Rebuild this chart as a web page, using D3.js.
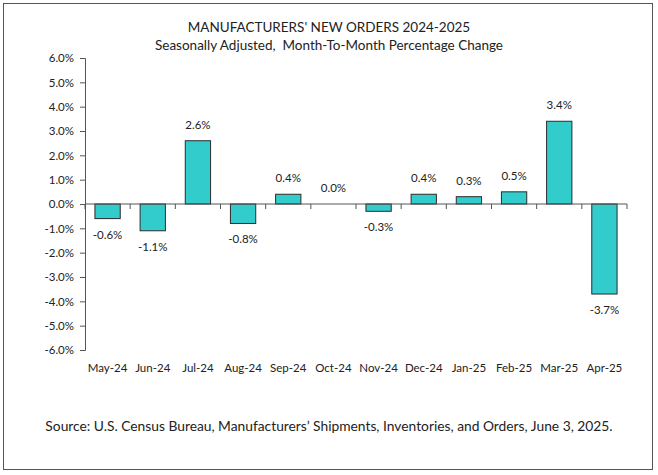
<!DOCTYPE html>
<html>
<head>
<meta charset="utf-8">
<script src="https://cdn.jsdelivr.net/npm/d3@7"></script>
<style>
body { margin: 0; background: #fff; }
text { font-family: Lato, "Open Sans", sans-serif; fill: #222; white-space: pre; }
</style>
</head>
<body>
<script>
var months = ['May-24', 'Jun-24', 'Jul-24', 'Aug-24', 'Sep-24', 'Oct-24', 'Nov-24', 'Dec-24', 'Jan-25', 'Feb-25', 'Mar-25', 'Apr-25'];
var changes = [-0.6, -1.1, 2.6, -0.8, 0.4, 0.0, -0.3, 0.4, 0.3, 0.5, 3.4, -3.7];
var yTicks = [-6, -5, -4, -3, -2, -1, 0, 1, 2, 3, 4, 5, 6];
var title = "MANUFACTURERS' NEW ORDERS 2024-2025";
var subtitle = 'Seasonally Adjusted,  Month-To-Month Percentage Change';
var source = 'Source: U.S. Census Bureau, Manufacturers\u2019 Shipments, Inventories, and Orders, June 3, 2025.';

var W = 658, H = 475;
var svg = d3.select('body').append('svg').attr('width', W).attr('height', H);

svg.append('rect')
    .attr('x', 3.5).attr('y', 3.5)
    .attr('width', 649).attr('height', 466)
    .attr('fill', '#fff').attr('stroke', '#555').attr('stroke-width', 1);

svg.append('text').attr('x', 329).attr('y', 32).attr('text-anchor', 'middle')
    .style('font-size', '13.5px').text(title);
svg.append('text').attr('x', 329).attr('y', 50).attr('text-anchor', 'middle')
    .style('font-size', '13.5px').text(subtitle);

var plotL = 85, plotR = 627, plotT = 58, plotB = 350;
var x = d3.scaleBand().domain(months).range([plotL, plotR]).paddingInner(0.44).paddingOuter(0.22);
var y = d3.scaleLinear().domain([-6, 6]).range([plotB, plotT]);

// y axis
var yAxis = svg.append('g').attr('transform', 'translate(' + plotL + ',0)')
    .call(d3.axisLeft(y).tickValues(yTicks).tickSize(5).tickPadding(6)
        .tickFormat(function(d) { return d.toFixed(1) + '%'; }));
yAxis.selectAll('text').style('font-size', '11.5px').attr('fill', '#222');
yAxis.selectAll('line, path').attr('stroke', '#555');

// bars
svg.selectAll('.bar').data(changes).enter().append('rect')
    .attr('class', 'bar')
    .attr('x', function(d, i) { return x(months[i]); })
    .attr('width', x.bandwidth())
    .attr('y', function(d) { return y(Math.max(0, d)); })
    .attr('height', function(d) { return Math.abs(y(d) - y(0)); })
    .attr('fill', '#33CCCC')
    .attr('stroke', '#2b2b2b')
    .attr('stroke-width', 1);

// zero axis with ticks between categories
var xAxisG = svg.append('g').attr('transform', 'translate(0,' + y(0) + ')');
xAxisG.append('line').attr('x1', plotL).attr('x2', plotR).attr('stroke', '#555');
var step = (plotR - plotL) / months.length;
xAxisG.selectAll('.tk').data(d3.range(months.length + 1)).enter().append('line')
    .attr('x1', function(d) { return plotL + d * step; })
    .attr('x2', function(d) { return plotL + d * step; })
    .attr('y1', 0).attr('y2', 5).attr('stroke', '#555');

// value labels
svg.selectAll('.lbl').data(changes).enter().append('text')
    .attr('x', function(d, i) { return x(months[i]) + x.bandwidth() / 2; })
    .attr('y', function(d) { return d >= 0 ? y(d) - 12 : y(d) + 20; })
    .attr('text-anchor', 'middle')
    .style('font-size', '11.5px')
    .text(function(d) { return d.toFixed(1) + '%'; });

// category labels
svg.selectAll('.cat').data(months).enter().append('text')
    .attr('x', function(d) { return x(d) + x.bandwidth() / 2; })
    .attr('y', 372)
    .attr('text-anchor', 'middle')
    .style('font-size', '11.5px')
    .text(function(d) { return d; });

svg.append('text').attr('x', 329).attr('y', 431).attr('text-anchor', 'middle')
    .style('font-size', '13.8px').text(source);
</script>
</body>
</html>
